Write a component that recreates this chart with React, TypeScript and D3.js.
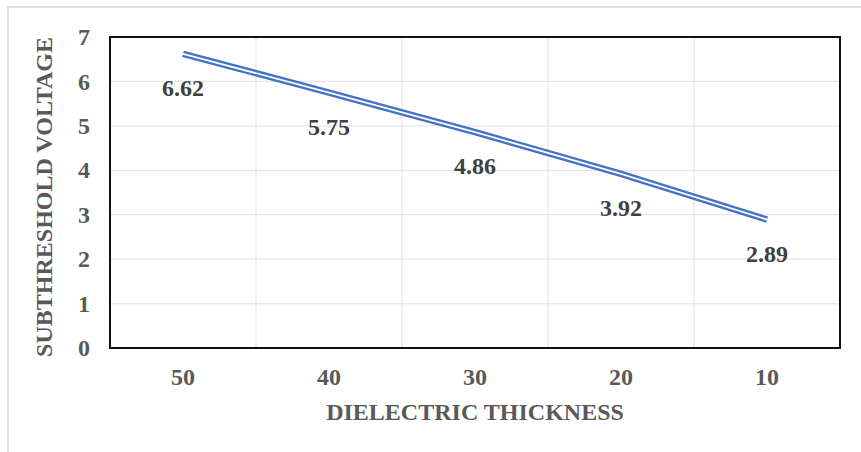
/*eslint-disable*/
import React, { useEffect, useRef } from 'react';
import * as d3 from 'd3';

const categories = ['50', '40', '30', '20', '10'];
const voltage = [6.62, 5.75, 4.86, 3.92, 2.89];
const yTicks = [0, 1, 2, 3, 4, 5, 6, 7];

const App: React.FC = () => {
  const svgRef = useRef<SVGSVGElement>(null);
  useEffect(() => {
    const W = 861, H = 452;
    const margin = { top: 37, right: 21, bottom: 104, left: 110 };
    const width = W - margin.left - margin.right;
    const height = H - margin.top - margin.bottom;
    const font = '"Liberation Serif", "Times New Roman", serif';

    const root = d3.select(svgRef.current);
    root.selectAll('*').remove();
    root.attr('width', W).attr('height', H);

    // outer chart frame (only top/left show)
    root.append('rect')
      .attr('x', 8).attr('y', 7)
      .attr('width', 900).attr('height', 500)
      .attr('fill', 'white')
      .attr('stroke', '#d9d9d9')
      .attr('stroke-width', 1.5);

    const svg = root.append('g')
      .attr('transform', `translate(${margin.left},${margin.top})`);

    const x = d3.scaleBand().domain(categories).range([0, width]);
    const y = d3.scaleLinear().domain([0, 7]).range([height, 0]);

    // gridlines
    svg.selectAll('.hgrid')
      .data(yTicks.slice(1, -1))
      .enter().append('line')
      .attr('x1', 0).attr('x2', width)
      .attr('y1', d => y(d)).attr('y2', d => y(d))
      .attr('stroke', '#e6e6e6').attr('stroke-width', 1.3);

    svg.selectAll('.vgrid')
      .data(categories.slice(1))
      .enter().append('line')
      .attr('x1', d => x(d)!).attr('x2', d => x(d)!)
      .attr('y1', 0).attr('y2', height)
      .attr('stroke', '#e6e6e6').attr('stroke-width', 1.3);

    // plot border
    svg.append('rect')
      .attr('x', 0).attr('y', 0)
      .attr('width', width).attr('height', height)
      .attr('fill', 'none')
      .attr('stroke', '#111')
      .attr('stroke-width', 2);

    const data = categories.map((c, i) => ({ c, v: voltage[i] }));
    const line = d3.line<{ c: string; v: number }>()
      .x(d => x(d.c)! + x.bandwidth() / 2)
      .y(d => y(d.v));

    // double line: wide blue with a thin white core
    svg.append('path')
      .datum(data)
      .attr('fill', 'none')
      .attr('stroke', '#4472c4')
      .attr('stroke-width', 6.5)
      .attr('d', line);
    svg.append('path')
      .datum(data)
      .attr('fill', 'none')
      .attr('stroke', 'white')
      .attr('stroke-width', 1.8)
      .attr('d', line);

    // data labels
    svg.selectAll('.lbl')
      .data(data)
      .enter().append('text')
      .attr('x', d => x(d.c)! + x.bandwidth() / 2)
      .attr('y', d => y(d.v) + 42)
      .attr('text-anchor', 'middle')
      .attr('font-family', font)
      .attr('font-weight', 'bold')
      .attr('font-size', 24)
      .attr('fill', '#404040')
      .text(d => d.v.toFixed(2));

    // y axis labels
    svg.selectAll('.ytick')
      .data(yTicks)
      .enter().append('text')
      .attr('x', -20)
      .attr('y', d => y(d))
      .attr('dy', '0.34em')
      .attr('text-anchor', 'end')
      .attr('font-family', font)
      .attr('font-weight', 'bold')
      .attr('font-size', 24)
      .attr('fill', '#595959')
      .text(d => String(d));

    // x axis labels
    svg.selectAll('.xtick')
      .data(categories)
      .enter().append('text')
      .attr('x', d => x(d)! + x.bandwidth() / 2)
      .attr('y', height + 37)
      .attr('text-anchor', 'middle')
      .attr('font-family', font)
      .attr('font-weight', 'bold')
      .attr('font-size', 24)
      .attr('fill', '#595959')
      .text(d => d);

    // axis titles
    svg.append('text')
      .attr('x', width / 2)
      .attr('y', height + 72)
      .attr('text-anchor', 'middle')
      .attr('font-family', font)
      .attr('font-weight', 'bold')
      .attr('font-size', 24)
      .attr('fill', '#595959')
      .text('DIELECTRIC THICKNESS');

    svg.append('text')
      .attr('transform', `translate(${52 - margin.left},${197 - margin.top}) rotate(-90)`)
      .attr('text-anchor', 'middle')
      .attr('font-family', font)
      .attr('font-weight', 'bold')
      .attr('font-size', 24)
      .attr('fill', '#595959')
      .text('SUBTHRESHOLD VOLTAGE');
  }, []);

  return (
    <svg ref={svgRef} style={{ position: 'absolute', left: 0, top: 0, display: 'block' }}></svg>
  );
};

export default App;
